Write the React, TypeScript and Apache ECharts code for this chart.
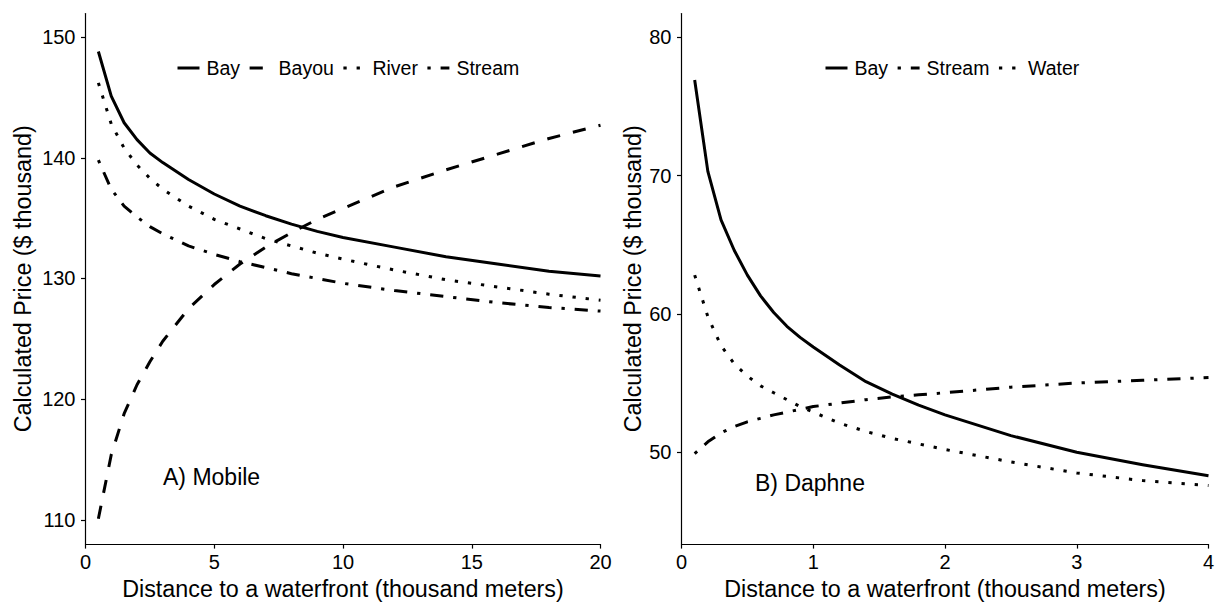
import React, { useEffect, useRef } from "react";
import * as echarts from "echarts";

// ---- Panel A: Mobile ----
const mobileDistance = [0.5, 1, 1.5, 2, 2.5, 3, 4, 5, 6, 7, 8, 9, 10, 12, 14, 16, 18, 20];
const mobileBay = [148.8, 145.1, 142.9, 141.5, 140.4, 139.6, 138.2, 137.0, 136.0, 135.2, 134.5, 133.9, 133.4, 132.6, 131.8, 131.2, 130.6, 130.2];
const mobileBayou = [110.1, 115.4, 118.8, 121.2, 123.1, 124.8, 127.5, 129.5, 131.2, 132.6, 133.8, 134.9, 135.8, 137.6, 139.0, 140.3, 141.6, 142.7];
const mobileRiver = [146.2, 142.8, 140.8, 139.4, 138.3, 137.4, 136.0, 134.9, 134.1, 133.3, 132.7, 132.1, 131.6, 130.7, 129.9, 129.3, 128.7, 128.2];
const mobileStream = [139.8, 137.4, 136.0, 135.1, 134.3, 133.7, 132.7, 132.0, 131.4, 130.9, 130.4, 130.0, 129.6, 129.0, 128.5, 128.0, 127.6, 127.3];
const mobileYTicks = [110, 120, 130, 140, 150];
const mobileLegend = ["Bay", "Bayou", "River", "Stream"];

// ---- Panel B: Daphne ----
const daphneDistance = [0.1, 0.2, 0.3, 0.4, 0.5, 0.6, 0.7, 0.8, 0.9, 1.0, 1.2, 1.4, 1.6, 1.8, 2.0, 2.5, 3.0, 3.5, 4.0];
const daphneBay = [76.9, 70.3, 66.8, 64.6, 62.8, 61.3, 60.1, 59.1, 58.3, 57.6, 56.3, 55.1, 54.2, 53.4, 52.7, 51.2, 50.0, 49.1, 48.3];
const daphneStream = [49.9, 50.75, 51.4, 51.85, 52.2, 52.45, 52.7, 52.9, 53.1, 53.3, 53.55, 53.8, 54.0, 54.15, 54.3, 54.7, 55.0, 55.2, 55.4];
const daphneWater = [62.8, 59.8, 57.7, 56.4, 55.5, 54.8, 54.3, 53.8, 53.3, 52.9, 52.1, 51.5, 51.0, 50.6, 50.2, 49.3, 48.5, 47.95, 47.6];
const daphneYTicks = [50, 60, 70, 80];
const daphneLegend = ["Bay", "Stream", "Water"];

const xTitle = "Distance to a waterfront (thousand meters)";
const yTitle = "Calculated Price ($ thousand)";

const FONT = "'Liberation Sans', Arial, Helvetica, sans-serif";
const U = 3.3;
const SOLID = "solid";
const DASHED = [4 * U, 4 * U];
const DOTTED = [U, 3 * U];
const DOTDASH = [U, 3 * U, 4 * U, 3 * U];

function pairs(xs: number[], ys: number[]) {
  return xs.map((x, i) => [x, ys[i]]);
}

function lineSeries(name: string, xs: number[], ys: number[], dash: any, idx: number) {
  return {
    type: "line",
    name,
    data: pairs(xs, ys),
    xAxisIndex: idx,
    yAxisIndex: idx,
    symbol: "none",
    showSymbol: false,
    silent: true,
    clip: true,
    itemStyle: { color: "#000" },
    lineStyle: { color: "#000", width: 3, type: dash, cap: "butt", join: "round" },
    emphasis: { disabled: true },
  };
}

function axisBase() {
  return {
    type: "value",
    nameLocation: "middle",
    splitLine: { show: false },
    axisLine: { show: true, onZero: false, lineStyle: { color: "#000", width: 1.2 } },
    axisTick: { show: true, length: 4.5, lineStyle: { color: "#000", width: 1.2 } },
    nameTextStyle: { color: "#000", fontSize: 23.3, fontFamily: FONT },
  };
}

export default function App() {
  const ref = useRef<HTMLDivElement>(null);

  useEffect(() => {
    if (!ref.current) return;
    const chart = echarts.init(ref.current, undefined, { renderer: "svg" });
    const labelStyle = { color: "#000", fontSize: 20, fontFamily: FONT };
    const legendBase = {
      orient: "horizontal",
      padding: 0,
      itemWidth: 22,
      itemHeight: 14,
      itemGap: 8,
      selectedMode: false,
      lineStyle: { width: 3 },
      itemStyle: { color: "rgba(0,0,0,0)", borderWidth: 0, opacity: 0 },
      textStyle: { color: "#000", fontSize: 19.5, fontFamily: FONT, padding: [0, 0, 0, 2] },
      top: 58,
    };
    chart.setOption({
      animation: false,
      backgroundColor: "#fff",
      textStyle: { fontFamily: FONT },
      grid: [
        { left: 85.5, top: 13.5, width: 515, height: 534.8, containLabel: false },
        { left: 681.5, top: 13.5, width: 527, height: 534.8, containLabel: false },
      ],
      xAxis: [
        {
          ...axisBase(),
          gridIndex: 0,
          min: 0,
          max: 20,
          interval: 5,
          name: xTitle,
          nameGap: 30,
          axisLabel: { ...labelStyle, margin: 8 },
        },
        {
          ...axisBase(),
          gridIndex: 1,
          min: 0,
          max: 4,
          interval: 1,
          name: xTitle,
          nameGap: 30,
          axisLabel: { ...labelStyle, margin: 8 },
        },
      ],
      yAxis: [
        {
          ...axisBase(),
          gridIndex: 0,
          min: 108.0,
          max: 151.95,
          name: yTitle,
          nameRotate: 90,
          nameGap: 51,
          axisTick: { show: true, length: 4.5, lineStyle: { color: "#000", width: 1.2 }, customValues: mobileYTicks },
          axisLabel: { ...labelStyle, margin: 10, customValues: mobileYTicks },
        },
        {
          ...axisBase(),
          gridIndex: 1,
          min: 43.36,
          max: 81.71,
          name: yTitle,
          nameRotate: 90,
          nameGap: 37,
          axisTick: { show: true, length: 4.5, lineStyle: { color: "#000", width: 1.2 }, customValues: daphneYTicks },
          axisLabel: { ...labelStyle, margin: 10, customValues: daphneYTicks },
        },
      ],
      legend: [
        { ...legendBase, left: 176, data: mobileLegend },
        { ...legendBase, left: 824, data: daphneLegend },
      ],
      graphic: [
        {
          type: "text",
          x: 163,
          y: 477,
          style: { text: "A) Mobile", fill: "#000", fontSize: 23, fontFamily: FONT, verticalAlign: "middle", align: "left" },
        },
        {
          type: "text",
          x: 755,
          y: 483,
          style: { text: "B) Daphne", fill: "#000", fontSize: 23, fontFamily: FONT, verticalAlign: "middle", align: "left" },
        },
      ],
      series: [
        lineSeries("Bay", mobileDistance, mobileBay, SOLID, 0),
        lineSeries("Bayou", mobileDistance, mobileBayou, DASHED, 0),
        lineSeries("River", mobileDistance, mobileRiver, DOTTED, 0),
        lineSeries("Stream", mobileDistance, mobileStream, DOTDASH, 0),
        lineSeries("Bay", daphneDistance, daphneBay, SOLID, 1),
        lineSeries("Stream", daphneDistance, daphneStream, DOTDASH, 1),
        lineSeries("Water", daphneDistance, daphneWater, DOTTED, 1),
      ],
    });
    return () => chart.dispose();
  }, []);

  return (
    <div
      ref={ref}
      style={{ position: "absolute", left: 0, top: 0, width: 1218, height: 605, background: "#fff" }}
    />
  );
}
